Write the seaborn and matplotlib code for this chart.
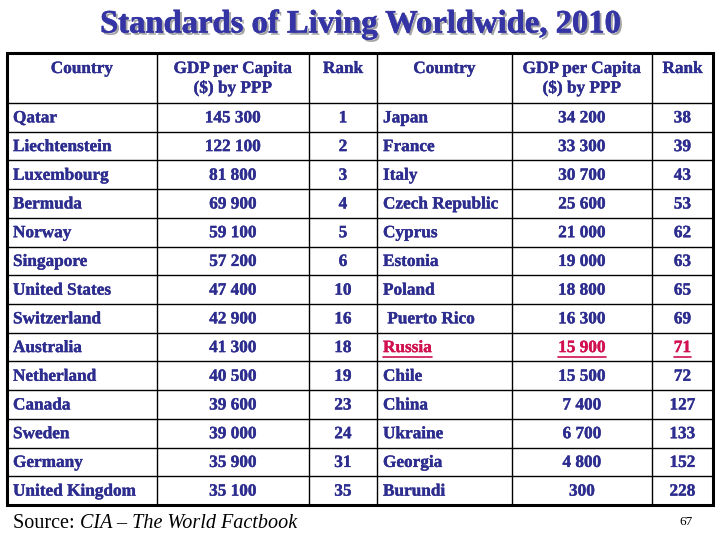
import matplotlib
matplotlib.use("Agg")
import matplotlib.pyplot as plt
import matplotlib.patheffects as pe
import seaborn as sns

# ---------------- data ----------------
title = "Standards of Living Worldwide, 2010"
headers = ["Country", "GDP per Capita\n($) by PPP", "Rank",
           "Country", "GDP per Capita\n($) by PPP", "Rank"]

countries_left = ["Qatar", "Liechtenstein", "Luxembourg", "Bermuda", "Norway",
                  "Singapore", "United States", "Switzerland", "Australia",
                  "Netherland", "Canada", "Sweden", "Germany", "United Kingdom"]
gdp_left = [145300, 122100, 81800, 69900, 59100, 57200, 47400, 42900, 41300,
            40500, 39600, 39000, 35900, 35100]
rank_left = [1, 2, 3, 4, 5, 6, 10, 16, 18, 19, 23, 24, 31, 35]

countries_right = ["Japan", "France", "Italy", "Czech Republic", "Cyprus",
                   "Estonia", "Poland", " Puerto Rico", "Russia", "Chile",
                   "China", "Ukraine", "Georgia", "Burundi"]
gdp_right = [34200, 33300, 30700, 25600, 21000, 19000, 18800, 16300, 15900,
             15500, 7400, 6700, 4800, 300]
rank_right = [38, 39, 43, 53, 62, 63, 65, 69, 71, 72, 127, 133, 152, 228]

highlight = "Russia"
source_prefix = "Source: "
source_text = "CIA \u2013 The World Factbook"
page_number = "67"

# ---------------- style ----------------
sns.set_theme(style="white")
plt.rcParams["font.family"] = ["Liberation Serif", "DejaVu Serif"]
SERIF = "Liberation Serif"

NAVY = "#2d2d8f"
TITLE_BLUE = "#3434a4"
RED = "#d0104f"


def fmt(v):
    return f"{v:,}".replace(",", " ")


fig = plt.figure(figsize=(7.2, 5.4), dpi=100)
ax = fig.add_axes([0, 0, 1, 1])
ax.set_xlim(0, 720)
ax.set_ylim(540, 0)
ax.axis("off")
fig.patch.set_facecolor("white")

# layout
col_edges = [7, 157, 309, 377, 512, 652, 713]
top, head_bot, bottom = 53, 103, 505
n = len(countries_left)
row_h = (bottom - head_bot) / n

# grid lines
for x in col_edges[1:-1]:
    ax.plot([x, x], [top, bottom], color="black", lw=1.0, zorder=2)
for i in range(n):
    y = head_bot + i * row_h
    ax.plot([col_edges[0], col_edges[-1]], [y, y], color="black", lw=1.0, zorder=2)
ax.plot([col_edges[0], col_edges[-1], col_edges[-1], col_edges[0], col_edges[0]],
        [top, top, bottom, bottom, top], color="black", lw=2.2, zorder=3,
        solid_joinstyle="miter")

FS = 12.4


def heavy(color):
    return [pe.withStroke(linewidth=0.25, foreground=color)]


# headers
for j, h in enumerate(headers):
    cx = (col_edges[j] + col_edges[j + 1]) / 2
    ax.text(cx, 61, h, ha="center", va="top", fontsize=FS, fontweight="bold",
            family=SERIF, color=NAVY, linespacing=1.25, path_effects=heavy(NAVY))

fig.canvas.draw()
renderer = fig.canvas.get_renderer()


def put(x, y, s, ha, color, underline=False):
    t = ax.text(x, y, s, ha=ha, va="center", fontsize=FS, fontweight="bold",
                family=SERIF, color=color, path_effects=heavy(color))
    if underline:
        bb = t.get_window_extent(renderer=renderer)
        inv = ax.transData.inverted()
        (x0, _), (x1, _) = inv.transform([(bb.x0, bb.y0), (bb.x1, bb.y0)])
        ax.plot([x0, x1], [y + 8.5, y + 8.5], color=color, lw=1.2)


for i in range(n):
    y = head_bot + (i + 0.5) * row_h + 1
    for side, (cn, gd, rk) in enumerate([
            (countries_left[i], gdp_left[i], rank_left[i]),
            (countries_right[i], gdp_right[i], rank_right[i])]):
        base = side * 3
        hl = cn.strip() == highlight
        c = RED if hl else NAVY
        put(col_edges[base] + 6, y, cn, "left", c, hl)
        put((col_edges[base + 1] + col_edges[base + 2]) / 2, y, fmt(gd), "center", c, hl)
        put((col_edges[base + 2] + col_edges[base + 3]) / 2, y, str(rk), "center", c, hl)

# title with shadow
ax.text(360, 24, title, ha="center", va="center", fontsize=23.5,
        fontweight="bold", color=TITLE_BLUE, zorder=5, family=SERIF,
        path_effects=[pe.SimplePatchShadow(offset=(1.6, -1.6),
                                           shadow_rgbFace="#9a9a9a", alpha=0.9),
                      pe.withStroke(linewidth=0.4, foreground=TITLE_BLUE)])

# source
t1 = ax.text(13, 523, source_prefix, ha="left", va="center", fontsize=14.5,
             family=SERIF, color="black")
bb = t1.get_window_extent(renderer=renderer)
x_end = ax.transData.inverted().transform((bb.x1, bb.y0))[0]
ax.text(x_end, 523, source_text, ha="left", va="center", fontsize=14.5,
        style="italic", family=SERIF, color="black")
ax.text(686, 522, page_number, ha="center", va="center", fontsize=9.5,
        family=SERIF, color="black")

fig.savefig("out.png", dpi=100, facecolor="white")
